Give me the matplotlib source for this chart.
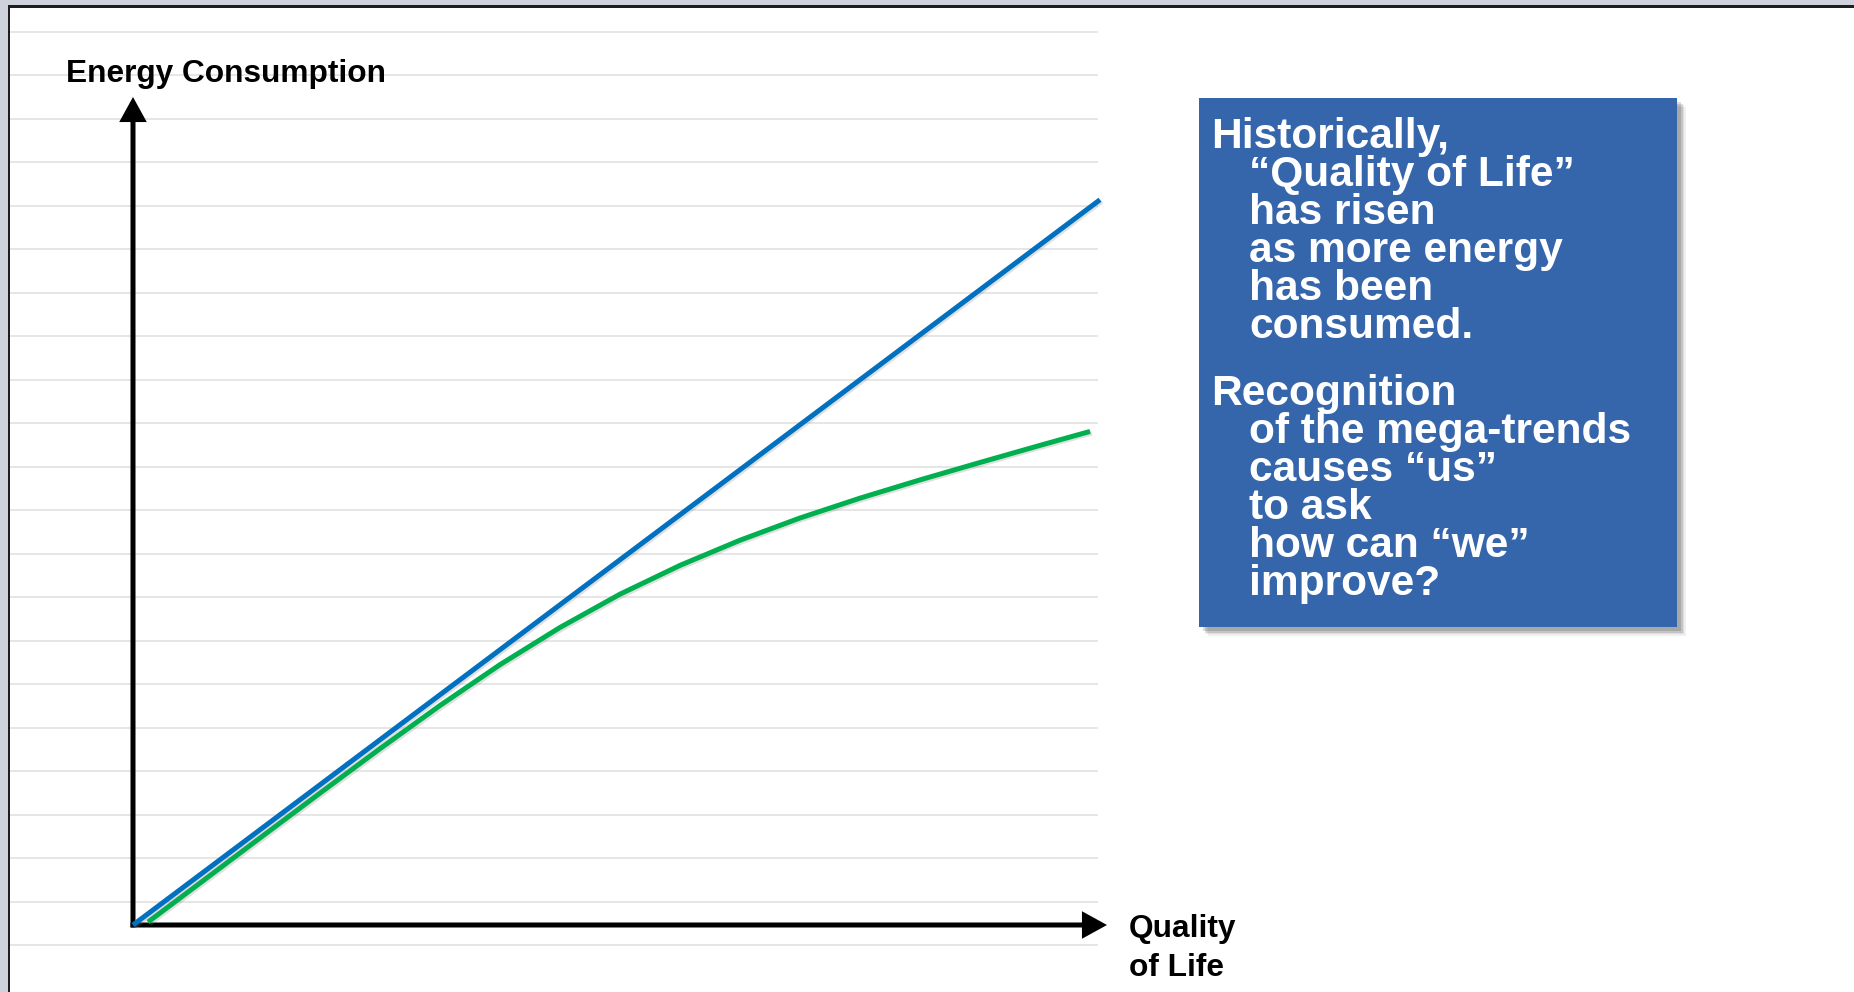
import numpy as np
import matplotlib
matplotlib.use("Agg")
import matplotlib.pyplot as plt
from matplotlib.patches import Rectangle, FancyArrowPatch
from matplotlib import patheffects as pe

# ---------------- data ----------------
quality_blue = [0, 100]
energy_blue = [0, 75]

quality_green = [1.55, 6.93, 13.13, 19.34, 25.54, 31.75, 37.95, 44.16, 50.36,
                 56.57, 62.77, 68.98, 75.18, 81.39, 87.59, 93.80, 98.97]
energy_green = [0.31, 4.34, 9.00, 13.64, 18.23, 22.70, 26.92, 30.77, 34.21,
                37.19, 39.79, 42.09, 44.14, 46.03, 47.83, 49.60, 51.04]

y_label = "Energy Consumption"
x_label = "Quality\nof Life"
box_lines = [
    ("Historically,", 0),
    ("\u201cQuality of Life\u201d", 1),
    ("has risen", 1),
    ("as more energy", 1),
    ("has been", 1),
    ("consumed.", 1),
    ("Recognition", 0),
    ("of the mega-trends", 1),
    ("causes \u201cus\u201d", 1),
    ("to ask", 1),
    ("how can \u201cwe\u201d", 1),
    ("improve?", 1),
]

# ---------------- layout ----------------
W, H = 1854, 992
PX = 9.67          # pixels per data unit
OX, OY = 133, 925  # pixel position of origin

def fx(p):
    return p / W

def fy(p):
    return 1 - p / H

FONT = "Liberation Sans"
BLUE = "#0070C0"
GREEN = "#00B050"
BOX = "#3565AA"

fig = plt.figure(figsize=(W / 100, H / 100), dpi=100)
fig.patch.set_facecolor("white")
ax = fig.add_axes([0, 0, 1, 1])
ax.set_xlim((0 - OX) / PX, (W - OX) / PX)
ax.set_ylim((OY - H) / PX, OY / PX)
ax.axis("off")

# window-like frame
fig.add_artist(Rectangle((0, fy(5.5)), 1, 5.5 / H, transform=fig.transFigure,
                         facecolor="#CED2DC", edgecolor="none", zorder=0))
fig.add_artist(Rectangle((0, 0), 8 / W, 1, transform=fig.transFigure,
                         facecolor="#CED2DC", edgecolor="none", zorder=0))
fig.add_artist(Rectangle((8 / W, fy(8)), 1, 2.5 / H, transform=fig.transFigure,
                         facecolor="#1E1E1E", edgecolor="none", zorder=1))
fig.add_artist(Rectangle((8 / W, 0), 2.2 / W, fy(6), transform=fig.transFigure,
                         facecolor="#1E1E1E", edgecolor="none", zorder=1))

# light horizontal rules
for k in range(22):
    ypx = 32 + 43.48 * k
    yd = (OY - ypx) / PX
    ax.plot([(10 - OX) / PX, (1098 - OX) / PX], [yd, yd], color="#E6E6E6",
            lw=1.4, zorder=1, solid_capstyle="butt")

# axes arrows
lw_axis = 3.6
y_top = (OY - 97) / PX
x_right = (1107 - OX) / PX
for (x0, y0, x1, y1) in [(0, -0.25, 0, y_top), (-0.25, 0, x_right, 0)]:
    arr = FancyArrowPatch((x0, y0), (x1, y1), arrowstyle="-|>,head_length=1.0,head_width=0.55",
                          mutation_scale=12.5, lw=lw_axis, color="black",
                          shrinkA=0, shrinkB=0, zorder=3, capstyle="butt", joinstyle="miter")
    ax.add_patch(arr)

# series
shadow = [pe.SimpleLineShadow(offset=(1.2, -1.2), shadow_color="gray", alpha=0.25), pe.Normal()]
ax.plot(quality_green, energy_green, color=GREEN, lw=3.6, solid_capstyle="butt",
        solid_joinstyle="round", zorder=4, path_effects=shadow)
ax.plot(quality_blue, energy_blue, color=BLUE, lw=3.6, solid_capstyle="butt",
        zorder=5, path_effects=shadow)

# axis labels
fig.text(fx(66), fy(82), y_label, fontfamily=FONT, fontweight="bold", fontsize=22.8,
         va="baseline", ha="left", color="black")
ql = x_label.split("\n")
fig.text(fx(1129), fy(937), ql[0], fontfamily=FONT, fontweight="bold", fontsize=22.8,
         va="baseline", ha="left", color="black")
fig.text(fx(1129), fy(976), ql[1], fontfamily=FONT, fontweight="bold", fontsize=22.8,
         va="baseline", ha="left", color="black")

# text box with soft shadow
bl, bt, br, bb = 1199, 98, 1677, 627
for i, a in enumerate([0.06, 0.08, 0.11, 0.14]):
    off = 9 - i * 1.6
    fig.add_artist(Rectangle((fx(bl + off), fy(bb + off)), (br - bl) / W, (bb - bt) / H,
                             transform=fig.transFigure, facecolor="black", alpha=a,
                             edgecolor="none", zorder=5))
fig.add_artist(Rectangle((fx(bl), fy(bb)), (br - bl) / W, (bb - bt) / H,
                         transform=fig.transFigure, facecolor=BOX, edgecolor="none", zorder=6))

baselines = [148, 186, 224, 262, 300, 338, 405, 443, 481, 519, 557, 595]
for (txt, ind), b in zip(box_lines, baselines):
    xpx = 1211 if ind == 0 else 1249
    fig.text(fx(xpx), fy(b), txt, fontfamily=FONT, fontweight="bold", fontsize=30.6,
             va="baseline", ha="left", color="white", zorder=7)

fig.savefig("out.png", dpi=100)
